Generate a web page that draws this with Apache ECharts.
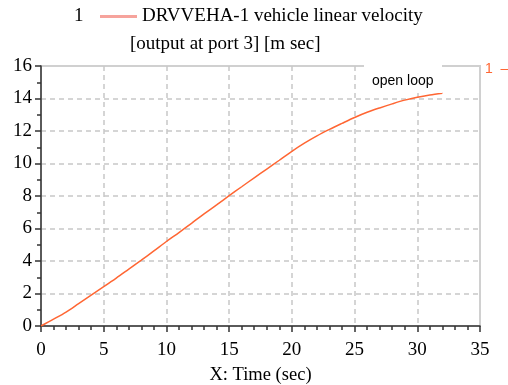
<!DOCTYPE html>
<html><head><meta charset="utf-8">
<script src="https://cdn.jsdelivr.net/npm/echarts@6/dist/echarts.min.js"></script>
<style>html,body{margin:0;padding:0;background:#fff}#c{width:508px;height:385px}</style>
</head><body><div id="c"></div>
<script>
const seriesName = 'DRVVEHA-1 vehicle linear velocity';
const subTitle = '[output at port 3] [m sec]';
const xName = 'X: Time (sec)';
const annotation = 'open loop';
const time = [0,1,2,3,4,5,6,7,8,9,10,11,12,13,14,15,16,17,18,19,20,21,22,23,24,25,26,27,28,29,30,31,32];
const velocity = [0,0.42,0.86,1.38,1.9,2.42,2.95,3.5,4.05,4.62,5.2,5.75,6.32,6.9,7.45,8.02,8.57,9.12,9.66,10.2,10.75,11.25,11.7,12.1,12.47,12.83,13.15,13.42,13.67,13.9,14.08,14.22,14.33];
const xTicks = {min:0, max:35, interval:5};
const yTicks = {min:0, max:16, interval:2};

const data = time.map((t,i)=>[t, velocity[i]]);
const serif = 'Liberation Serif';
const chart = echarts.init(document.getElementById('c'));
chart.setOption({
  animation:false,
  backgroundColor:'#fff',
  title:[
    {text:'1', left:74, top:7, padding:0, textStyle:{fontFamily:serif, fontSize:19, fontWeight:'normal', color:'#000'}},
    {text:subTitle, left:130, top:35, padding:0, textStyle:{fontFamily:serif, fontSize:19, fontWeight:'normal', color:'#000'}}
  ],
  legend:{
    left:100, top:7, padding:0, icon:'rect', itemWidth:37, itemHeight:3, itemGap:6,
    data:[{name:seriesName, itemStyle:{color:'#f6a39c'}}],
    textStyle:{fontFamily:serif, fontSize:19, color:'#000', padding:[0,0,0,0]}
  },
  grid:{left:41, right:28, top:66, bottom:59, containLabel:false, outerBoundsMode:'none',
        show:true, borderColor:'#d0d0d0', borderWidth:2},
  xAxis:{
    type:'value', min:xTicks.min, max:xTicks.max, interval:xTicks.interval,
    name:xName, nameLocation:'middle', nameGap:40, nameMoveOverlap:false,
    nameTextStyle:{fontFamily:serif, fontSize:18.5, color:'#000'},
    axisLine:{lineStyle:{color:'#333', width:1.5}},
    axisTick:{show:true, length:6, lineStyle:{color:'#333', width:1.5}},
    minorTick:{show:true, splitNumber:5, length:4, lineStyle:{color:'#333', width:1.5}},
    axisLabel:{fontFamily:serif, fontSize:19, color:'#000', margin:15},
    splitLine:{show:true, showMinLine:false, showMaxLine:false, lineStyle:{color:'#c8c8c8', type:[5,4], width:1.5}}
  },
  yAxis:{
    type:'value', min:yTicks.min, max:yTicks.max, interval:yTicks.interval,
    axisLine:{show:true, lineStyle:{color:'#333', width:1.5}},
    axisTick:{show:true, length:6, lineStyle:{color:'#333', width:1.5}},
    minorTick:{show:true, splitNumber:2, length:4, lineStyle:{color:'#333', width:1.5}},
    axisLabel:{fontFamily:serif, fontSize:19, color:'#000', margin:9},
    splitLine:{show:true, showMinLine:false, showMaxLine:false, lineStyle:{color:'#c8c8c8', type:[5,4], width:1.5}}
  },
  graphic:[
    {type:'rect', shape:{x:364, y:60, width:78, height:33}, style:{fill:'#fff'}, z:10},
    {type:'text', x:372, y:74, style:{text:annotation, font:'14px "Liberation Sans"', fill:'#000'}, z:11},
    {type:'text', x:485, y:62, style:{text:'1  \u2013', font:'14px "Liberation Sans"', fill:'#ff6633'}, z:11}
  ],
  series:[{
    name:seriesName, type:'line', data:data, symbol:'none', smooth:0.3,
    lineStyle:{color:'#ff6633', width:1.5}, itemStyle:{color:'#f6a39c'}, z:5
  }]
});
</script></body></html>
